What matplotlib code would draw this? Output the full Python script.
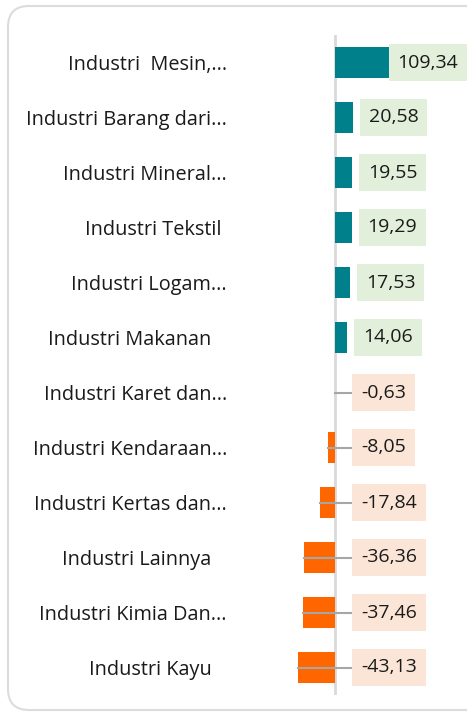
import matplotlib
matplotlib.use("Agg")
import matplotlib.pyplot as plt
from matplotlib.patches import FancyBboxPatch
from matplotlib.path import Path

plt.rcParams['font.family'] = ['Open Sans', 'DejaVu Sans']

# data
kategori = ["Industri  Mesin,...", "Industri Barang dari...", "Industri Mineral...",
            "Industri Tekstil ", "Industri Logam...", "Industri Makanan   ",
            "Industri Karet dan...", "Industri Kendaraan...", "Industri Kertas dan...",
            "Industri Lainnya   ", "Industri Kimia Dan...", "Industri Kayu   "]
nilai = [109.34, 20.58, 19.55, 19.29, 17.53, 14.06, -0.63, -8.05, -17.84, -36.36, -37.46, -43.13]
label_nilai = ["109,34", "20,58", "19,55", "19,29", "17,53", "14,06",
               "-0,63", "-8,05", "-17,84", "-36,36", "-37,46", "-43,13"]


def kotak_label(x0, y0, width, height, mutation_size):
    # kotak dengan padding horizontal dan vertikal berbeda
    px = 0.45 * mutation_size
    py = 0.51 * mutation_size
    x0, x1 = x0 - px, x0 + width + px
    y0, y1 = y0 - py, y0 + height + py
    return Path([(x0, y0), (x1, y0), (x1, y1), (x0, y1), (x0, y0)], closed=True)


W, H = 467, 718
fig = plt.figure(figsize=(W / 100, H / 100), dpi=100)

# rounded card border
card = FancyBboxPatch((8 / W, 8 / H), 480 / W, 704 / H,
                      boxstyle="round,pad=0,rounding_size=0.045",
                      transform=fig.transFigure, facecolor="none",
                      edgecolor="#dcdcdc", linewidth=1.5, mutation_aspect=W / H,
                      zorder=-1)
fig.patches.append(card)

ax = fig.add_axes([235 / W, 23 / H, 232 / W, 660 / H])
ax.set_facecolor("none")

y = list(range(len(nilai)))
warna = ["#00808a" if v >= 0 else "#ff6600" for v in nilai]
ax.barh(y, nilai, height=0.56, color=warna, zorder=2)
ax.axvline(0, color="#d9d9d9", linewidth=2, zorder=1)

ax.set_xlim(-116, 153)
ax.set_ylim(len(nilai) - 0.5, -0.5)
ax.set_yticks(y)
ax.set_yticklabels(kategori, fontsize=14.3, color="#1a1a1a")
ax.tick_params(axis="y", length=0, pad=5.8)
ax.set_xticks([])
for s in ax.spines.values():
    s.set_visible(False)

for i, (v, lab) in enumerate(zip(nilai, label_nilai)):
    if v >= 0:
        fc = "#e2efda"
        if v > 80:
            ax.annotate(lab, xy=(1, i), xycoords=("axes fraction", "data"),
                        ha="right", va="center", fontsize=14, color="#1a1a1a",
                        xytext=(-9, 0), textcoords="offset pixels",
                        bbox=dict(boxstyle=kotak_label, fc=fc, ec="none"), zorder=4)
        else:
            ax.annotate(lab, xy=(v, i), ha="left", va="center", fontsize=14,
                        color="#1a1a1a", xytext=(16, 0), textcoords="offset pixels",
                        bbox=dict(boxstyle=kotak_label, fc=fc, ec="none"), zorder=4)
    else:
        fc = "#fbe5d6"
        ax.plot([v, 17 / 0.86], [i, i], color="#a6a6a6", linewidth=1.5, zorder=3)
        ax.annotate(lab, xy=(0, i), ha="left", va="center", fontsize=14,
                    color="#1a1a1a", xytext=(26, 0), textcoords="offset pixels",
                    bbox=dict(boxstyle=kotak_label, fc=fc, ec="none"), zorder=4)

fig.savefig("out.png", dpi=100)
